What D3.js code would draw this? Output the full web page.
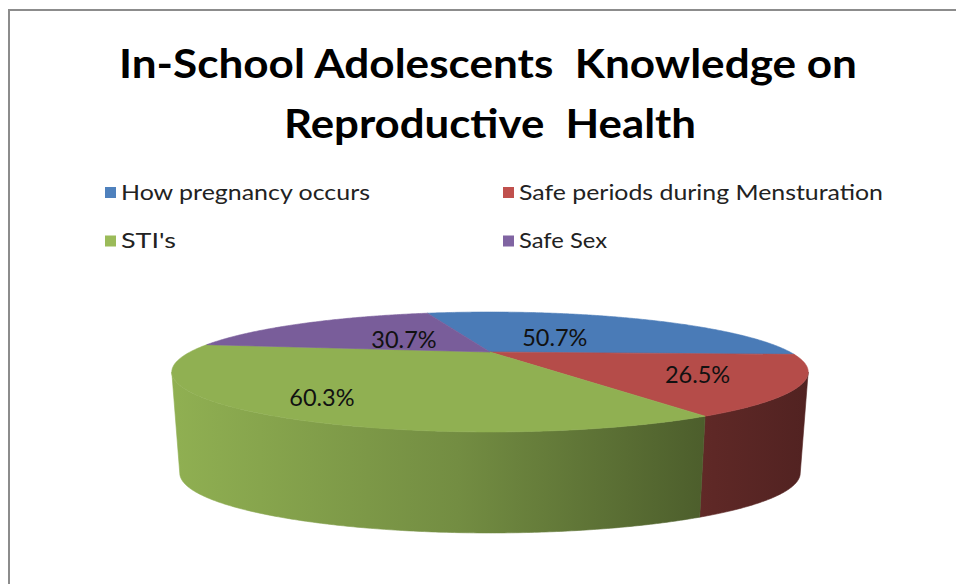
<!DOCTYPE html>
<html>
<head>
<meta charset="utf-8">
<script src="https://cdn.jsdelivr.net/npm/d3@7"></script>
<style>
  html, body { margin: 0; padding: 0; background: #ffffff; }
  svg { display: block; }
  text { white-space: pre; }
</style>
</head>
<body>
<svg id="chart" width="956" height="584"></svg>
<script>
// ---- data ----
const titleLines = ["In-School Adolescents  Knowledge on", "Reproductive  Health"];
const categories = ["How pregnancy occurs", "Safe periods during Mensturation", "STI's", "Safe Sex"];
const values = [50.7, 26.5, 60.3, 30.7];
const valueLabels = ["50.7%", "26.5%", "60.3%", "30.7%"];
const sliceColors = ["#4A7BB7", "#B54C49", "#90B052", "#795D9A"];
const legendColors = ["#4F81BD", "#C0504D", "#9BBB59", "#8064A2"];

// ---- layout ----
const W = 956, H = 584;
const svg = d3.select("#chart");
const FONT = "Lato, 'Open Sans', 'Liberation Sans', sans-serif";

// chart frame (only the top and left edges fall inside the view)
svg.append("rect")
  .attr("x", 9).attr("y", 10)
  .attr("width", W + 20).attr("height", H + 20)
  .attr("fill", "none").attr("stroke", "#8c8c8c").attr("stroke-width", 2);

// title
const titleMetrics = [
  { y: 77.5, x0: 119, x1: 857 },
  { y: 137.5, x0: 284, x1: 696 }
];
titleLines.forEach((t, i) => {
  const m = titleMetrics[i];
  svg.append("text")
    .attr("x", m.x0).attr("y", m.y)
    .attr("textLength", m.x1 - m.x0)
    .attr("lengthAdjust", "spacingAndGlyphs")
    .attr("font-family", FONT).attr("font-weight", "bold")
    .attr("font-size", 41).attr("fill", "#000")
    .text(t);
});

// legend: two columns, two rows
const legendX = [105, 503];
const legendY = [199.5, 248];
const legendTextW = [249, 364, 55, 88];
categories.forEach((c, i) => {
  const col = i % 2, row = Math.floor(i / 2);
  const g = svg.append("g");
  g.append("rect")
    .attr("x", legendX[col]).attr("y", legendY[row] - 12.5)
    .attr("width", 11).attr("height", 11)
    .attr("fill", legendColors[i]);
  g.append("text")
    .attr("x", legendX[col] + 16).attr("y", legendY[row])
    .attr("textLength", legendTextW[i])
    .attr("lengthAdjust", "spacingAndGlyphs")
    .attr("font-family", FONT).attr("font-size", 21).attr("fill", "#222")
    .text(c);
});

// ---- 3D pie projection ----
// Disk angle theta is measured clockwise from 12 o'clock; f is radius fraction.
const CX = 490, CY = 352;       // projected centre of the top face
const KR = 300;                  // horizontal radius scale
const KRS = 53.3;                // vertical (tilt) scale
const PERSP = 1 / 3;             // perspective strength
const DEPTH = 101;               // wall height in px
const BOTTOM_SHRINK = 0.975;     // walls lean slightly inward

function project(theta, f, bottom) {
  const X = f * Math.sin(theta), z = -f * Math.cos(theta);
  const den = 1 - PERSP * z;
  let x = CX + KR * X / den, y = CY + KRS * z / den;
  if (bottom) { x = CX + (x - CX) * BOTTOM_SHRINK; y += DEPTH; }
  return [x, y];
}

function arcPoints(a0, a1, f, bottom) {
  const n = Math.max(2, Math.ceil(Math.abs(a1 - a0) / (Math.PI / 360)));
  return d3.range(n + 1).map(k => project(a0 + (a1 - a0) * k / n, f, bottom));
}

const START = -16 * Math.PI / 180;
const pie = d3.pie().sort(null).value(d => d)
  .startAngle(START).endAngle(START + 2 * Math.PI);
const arcs = pie(values);
const line = d3.line();

// gradients for the curved walls (lighter at left, darker at right)
const defs = svg.append("defs");
const shadeStops = [[0, 1.0], [0.45, 0.8], [0.85, 0.52], [1, 0.45]];
sliceColors.forEach((col, i) => {
  const base = d3.rgb(col);
  const grad = defs.append("linearGradient")
    .attr("id", "wall" + i)
    .attr("gradientUnits", "userSpaceOnUse")
    .attr("x1", 170).attr("x2", 810).attr("y1", 0).attr("y2", 0);
  shadeStops.forEach(([o, k]) => {
    grad.append("stop").attr("offset", o)
      .attr("stop-color", d3.rgb(base.r * k, base.g * k, base.b * k).formatHex());
  });
});

// walls: visible between the two silhouette points of the rim
// (where the projected rim is widest, i.e. cos(theta) = -PERSP)
const FRONT0 = Math.acos(-PERSP), FRONT1 = 2 * Math.PI - Math.acos(-PERSP);
const wallG = svg.append("g");
arcs.forEach((a, i) => {
  const s = Math.max(a.startAngle, FRONT0), e = Math.min(a.endAngle, FRONT1);
  if (e <= s) return;
  const topPts = arcPoints(s, e, 1, false);
  const botPts = arcPoints(e, s, 1, true);
  wallG.append("path")
    .attr("d", line(topPts.concat(botPts)) + "Z")
    .attr("fill", "url(#wall" + i + ")")
    .attr("stroke", "url(#wall" + i + ")").attr("stroke-width", 0.6);
});

// top faces
const topG = svg.append("g");
arcs.forEach((a, i) => {
  const pts = [[CX, CY]].concat(arcPoints(a.startAngle, a.endAngle, 1, false));
  topG.append("path")
    .attr("d", line(pts) + "Z")
    .attr("fill", sliceColors[i])
    .attr("stroke", sliceColors[i]).attr("stroke-width", 0.6);
});

// value labels along each slice's mid-angle; back slices sit nearer the centre
const labelG = svg.append("g");
arcs.forEach((a, i) => {
  const mid = (a.startAngle + a.endAngle) / 2;
  const f = 0.58 - 0.25 * Math.cos(mid);
  const [x, y] = project(mid, f, false);
  labelG.append("text")
    .attr("x", x).attr("y", y)
    .attr("text-anchor", "middle").attr("dominant-baseline", "central")
    .attr("font-family", FONT).attr("font-size", 23.5).attr("fill", "#111")
    .text(valueLabels[i]);
});
</script>
</body>
</html>
